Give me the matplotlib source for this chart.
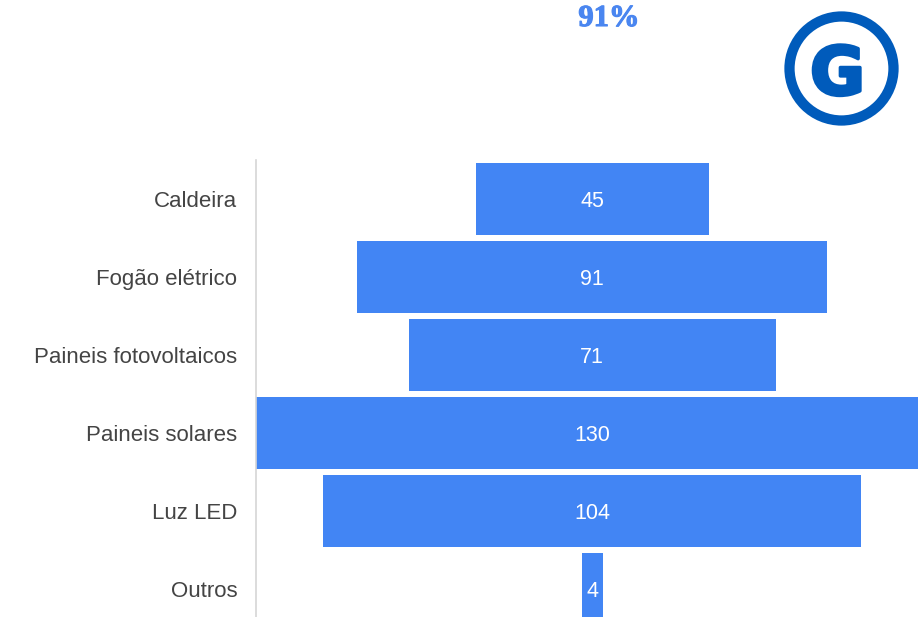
"""
Funnel-style centred bar chart with a logo in the corner
"""

import numpy as np
import matplotlib
matplotlib.use('Agg')
import matplotlib.pyplot as plt
from matplotlib.patches import Circle
import matplotlib.patheffects as pe

categories = ['Caldeira', 'Fogão elétrico', 'Paineis fotovoltaicos',
              'Paineis solares', 'Luz LED', 'Outros']
values = np.array([45, 91, 71, 130, 104, 4])
headline = '91%'

BAR_BLUE = '#4285F4'
LOGO_BLUE = '#005BBB'

fig = plt.figure(figsize=(9.18, 6.17), dpi=100)
fig.patch.set_facecolor('white')

# main chart
ax = fig.add_axes([256 / 918, 0.0, 1 - 256 / 918, 1 - 160 / 617])
y = np.arange(len(categories))
ax.barh(y, values, left=-values / 2, height=0.92, color=BAR_BLUE)
# labels at the true bar centre (the widest bar is clipped on the right)
for yi, v in zip(y, values):
    ax.text(0, yi, str(v), ha='center', va='center_baseline', color='white',
            fontsize=15.5, family='Liberation Sans')

ax.set_xlim(-65, 63)
ax.set_ylim(len(categories) - 0.64, -0.5)
ax.set_yticks(y)
ax.set_yticklabels(categories, fontsize=16, color='#444444',
                   family='Liberation Sans')
ax.tick_params(axis='y', length=0, pad=13.5)
ax.set_xticks([])
for side in ['top', 'right', 'bottom']:
    ax.spines[side].set_visible(False)
ax.spines['left'].set_color('#d6d6d6')
ax.spines['left'].set_linewidth(1.2)

# headline above the chart
fig.text(609 / 918, 1 - 15 / 617, headline, ha='center', va='center_baseline',
         fontsize=22, fontweight='bold', color='#4a86f0',
         family='Liberation Serif',
         path_effects=[pe.withStroke(linewidth=0.8, foreground='#4a86f0')])

# logo
lax = fig.add_axes([779.5 / 918, 1 - 130.5 / 617, 124 / 918, 124 / 617])
lax.set_xlim(-62, 62)
lax.set_ylim(-62, 62)
lax.axis('off')
lax.add_patch(Circle((0, 0), 52, fill=False, edgecolor=LOGO_BLUE, lw=7.4))
lax.text(-4, 0, 'G', ha='center', va='center_baseline', fontsize=48,
         fontweight='bold', color=LOGO_BLUE, family='DejaVu Sans',
         path_effects=[pe.withStroke(linewidth=2.5, foreground=LOGO_BLUE)])

fig.savefig('out.png', dpi=100)
